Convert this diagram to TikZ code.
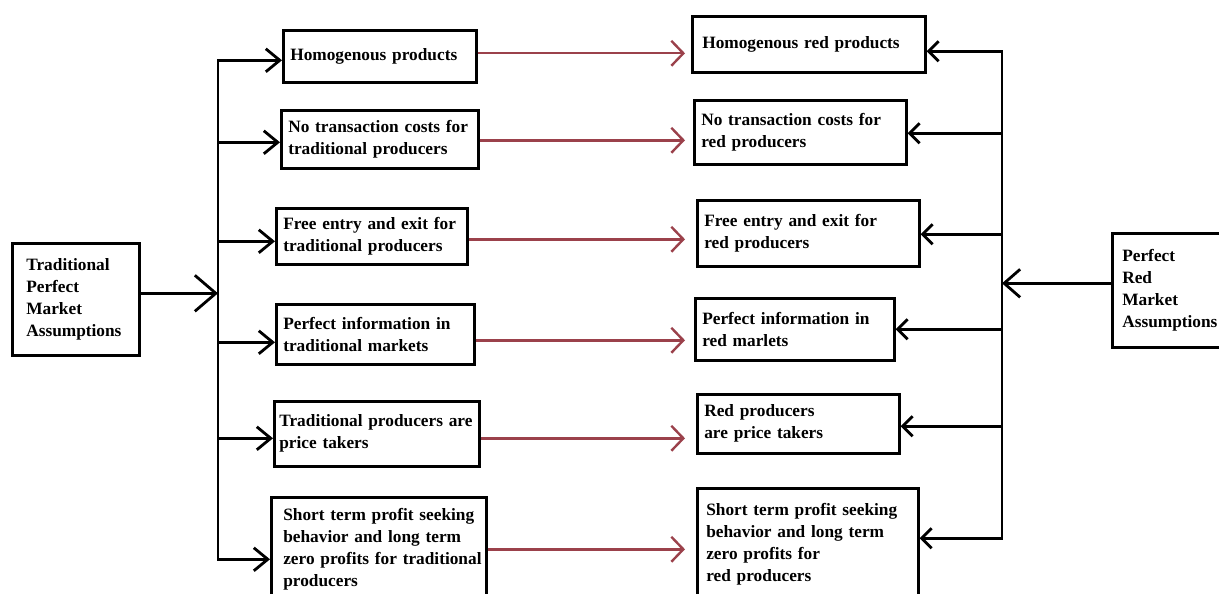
\documentclass[tikz,border=0pt]{standalone}
\usepackage{fontspec}
\setmainfont{Liberation Serif}
\usetikzlibrary{arrows.meta}
\definecolor{arrred}{RGB}{155,65,75}
\begin{document}
\begin{tikzpicture}[x=1pt,y=-1pt,
  box/.style={draw=black,line width=2.6pt,anchor=north west,inner xsep=7pt,inner ysep=0pt,
    align=left,font=\bfseries\fontsize{17.3}{22}\selectfont},
  blk/.style={draw=black,line width=2.8pt},
  brarr/.style={blk,-{Straight Barb[length=14pt,width=23pt]}},
  rbrarr/.style={blk,-{Straight Barb[length=10pt,width=20pt]}},
  mainarr/.style={blk,-{Straight Barb[length=21pt,width=36pt]}},
  rmainarr/.style={blk,-{Straight Barb[length=16pt,width=28pt]}},
  redarr/.style={draw=arrred,line width=2.4pt,-{Straight Barb[length=12pt,width=25pt]}}]
\useasboundingbox (0,0) rectangle (1219,594);
\fill[white] (0,0) rectangle (1219,594);

% left main box
\node[box,inner xsep=14pt,text width=99pt,minimum height=112pt] (L0) at (11,242)
  {Traditional\\Perfect\\Market\\Assumptions};
% right main box
\node[box,inner xsep=10pt,text width=110pt,minimum height=114pt] (R0) at (1111,232)
  {Perfect\\Red\\Market\\Assumptions};

% left column
\node[box,text width=179pt,minimum height=52pt] (l1) at (282,29) {Homogenous products};
\node[box,text width=183pt,minimum height=58pt] (l2) at (280,109) {No transaction costs for\\traditional producers};
\node[box,text width=177pt,minimum height=56pt] (l3) at (275,207) {Free entry and exit for\\traditional producers};
\node[box,text width=184pt,minimum height=60pt] (l4) at (275,303) {Perfect information in\\traditional markets};
\node[box,inner xsep=5pt,text width=195pt,minimum height=65pt] (l5) at (273,400) {\mbox{Traditional producers are}\\price takers};
\node[box,inner xsep=12pt,text width=191pt,minimum height=104pt] (l6) at (270,496) {Short term profit seeking\\behavior and long term\\\mbox{zero profits for traditional}\\producers};

% right column
\node[box,inner xsep=10pt,text width=213pt,minimum height=56pt] (r1) at (691,15) {Homogenous red products};
\node[box,text width=198pt,minimum height=64pt] (r2) at (693,99) {No transaction costs for\\red producers};
\node[box,text width=208pt,minimum height=66pt] (r3) at (696,199) {Free entry and exit for\\red producers};
\node[box,text width=185pt,minimum height=62pt] (r4) at (694,297) {Perfect information in\\red marlets};
\node[box,text width=188pt,minimum height=59pt] (r5) at (696,393) {Red producers\\are price takers};
\node[box,inner xsep=9pt,text width=203pt,minimum height=112pt] (r6) at (696,487) {Short term profit seeking\\behavior and long term\\zero profits for\\red producers};

% trunk coordinates
\coordinate (ltk) at (218,0);
\coordinate (rtk) at (1002,0);
\coordinate (tipx) at (685,0);

% left branch points
\coordinate (p1) at ([yshift=-4pt]l1.west);
\coordinate (p2) at ([yshift=-3pt]l2.west);
\coordinate (p3) at ([yshift=-5pt]l3.west);
\coordinate (p4) at ([yshift=-8pt]l4.west);
\coordinate (p5) at ([yshift=-4.5pt]l5.west);
\coordinate (p6) at ([yshift=-10pt]l6.west);

% right branch points
\coordinate (q1) at ([yshift=-7pt]r1.east);
\coordinate (q2) at ([yshift=-1pt]r2.east);
\coordinate (q3) at ([yshift=-1pt]r3.east);
\coordinate (q4) at (r4.east);
\coordinate (q5) at ([yshift=-2.5pt]r5.east);
\coordinate (q6) at ([yshift=6pt]r6.east);

% red arrow starts
\coordinate (s1) at ([yshift=3pt]l1.east);
\coordinate (s2) at ([yshift=-1pt]l2.east);
\coordinate (s3) at ([yshift=-3pt]l3.east);
\coordinate (s4) at ([yshift=-6pt]l4.east);
\coordinate (s5) at ([yshift=-4.5pt]l5.east);
\coordinate (s6) at (l6.east);

% main arrows
\coordinate (m0) at ([yshift=6pt]L0.east);
\coordinate (n0) at ([yshift=7pt]R0.west);

% left trunk
\draw[blk,line cap=rect] (p1 -| ltk) -- (p6 -| ltk);
\draw[mainarr] (m0) -- (m0 -| ltk);
\foreach \i in {1,...,6} { \draw[brarr] (p\i -| ltk) -- (p\i); }

% right trunk
\draw[blk,line cap=rect] (q1 -| rtk) -- (q6 -| rtk);
\draw[rmainarr] (n0) -- (n0 -| rtk);
\foreach \i in {1,...,6} { \draw[rbrarr] (q\i -| rtk) -- (q\i); }

% red arrows
\foreach \i in {1,...,6} { \draw[redarr] (s\i) -- (s\i -| tipx); }
\end{tikzpicture}
\end{document}
